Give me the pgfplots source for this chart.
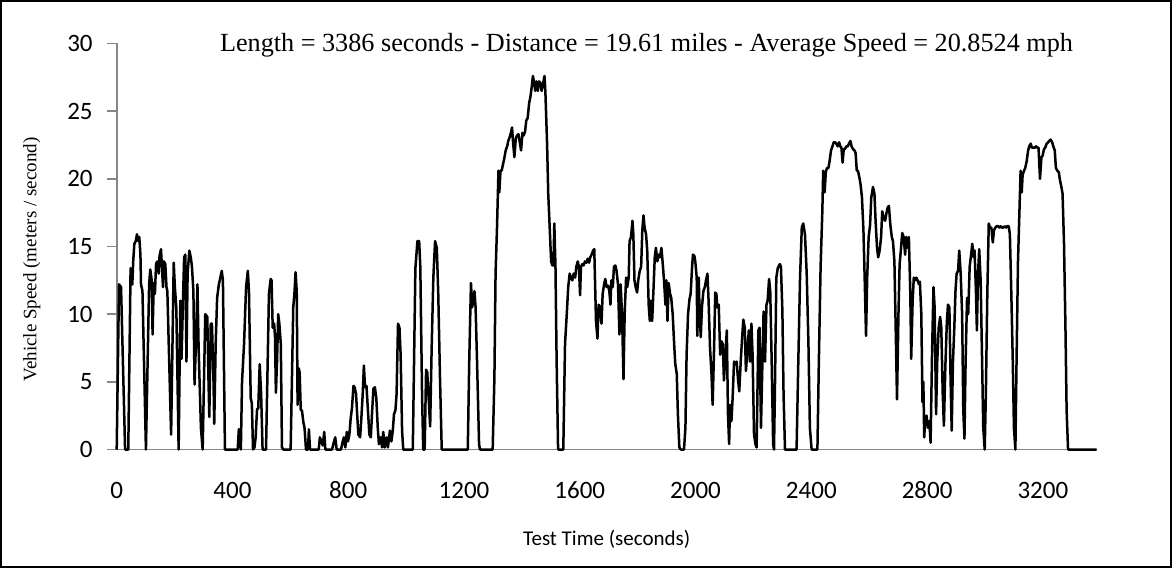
\documentclass[border=0pt]{standalone}
\usepackage{pgfplots}
\pgfplotsset{compat=1.18}
\usepackage{fontspec}
\setmainfont{Liberation Serif}
\newfontfamily\calibri{Carlito}
\definecolor{axgray}{HTML}{868686}
\begin{document}
\begin{tikzpicture}
\useasboundingbox (-58.35pt,-59.25pt) rectangle (527.65pt,224.75pt);
\draw[line width=1.1pt] (-57.8pt,-58.7pt) rectangle (527.1pt,224.2pt);
\begin{axis}[
  at={(0,0)}, anchor=south west,
  scale only axis, width=490pt, height=203pt,
  xmin=0, xmax=3386, ymin=0, ymax=30,
  axis lines*=left,
  axis line style={-, draw=axgray, line width=0.8pt},
  xtick={0,400,...,3200}, ytick={0,5,...,30},
  tick align=outside,
  major tick length=5pt,
  xtick style={draw=none},
  ytick style={draw=axgray, line width=0.8pt},
  /pgf/number format/assume math mode=true,
  /pgf/number format/1000 sep={},
  xticklabel style={font=\calibri\fontsize{12.5}{14}\selectfont, anchor=center, yshift=-15.5pt},
  yticklabel style={font=\calibri\fontsize{12.5}{14}\selectfont, anchor=east, xshift=-3.5pt},
  clip=false,
]
\addplot[black, line width=1.25pt, line join=round] coordinates {
(0,0) (8,12.2) (15,12.0) (29,0) (40,0) (48,13.4) (54,12.2) (57,13.9) (61,15.2) (66,15.4) (70,15.9) (75,15.4) (78,15.7) (82,14.4) (84,12.2) (89,11.7) (101,0)
(112,12.2) (116,13.3) (121,12.5) (124,8.5) (128,12.3) (132,11.5) (136,13.7) (140,13.9) (145,13) (148,14.3) (153,14.8) (157,13.2) (160,12) (163,13.9) (168,13.7) (172,12) (175,11.7) (188,1.1)
(197,13.8) (201,12) (206,10.5) (214,0) (220,11) (224,6.7) (229,11) (233,14.2) (237,14.4) (241,6.5) (245,13) (251,14.7) (256,14.2) (260,13.5) (265,11.7) (269,4.8) (274,8) (279,12.2) (283,7.5) (291,1.6) (297,0)
(306,10) (313,9.8) (317,5.3) (320,2.4) (325,9.3) (329,9.3) (334,5.6) (337,1.9) (342,7.8) (347,11.2) (353,12.2) (363,13.2) (367,12.5) (374,0) (418,0) (422,1.5) (429,0)
(433,5) (440,7.8) (447,12) (453,13.2) (457,11.7) (463,3.8) (467,3.4) (471,0) (476,0.15) (480,0.9) (485,3) (489,3) (494,6.3) (499,4.1) (504,0) (516,0)
(526,11.5) (532,12.6) (535,12.5) (539,9) (544,9.3) (547,8.3) (550,4.2) (554,6.5) (558,10) (562,9.3) (567,7.8) (571,0.15) (576,0) (601,0)
(610,10.5) (614,11.5) (618,13.1) (622,11.7) (625,3.3) (629,6) (632,5.7) (636,2.9) (640,2.9) (645,2) (649,1.6) (654,0) (661,0) (664,1.5) (668,0) (698,0)
(702,0.9) (707,0.6) (712,0.3) (717,1.3) (721,0) (744,0) (751,0.6) (755,0.9) (760,0) (775,0) (781,0.6) (785,0.9) (790,0.15) (795,1.3) (799,0.6) (804,1.1) (808,2.2) (813,3.1) (818,4.7) (822,4.6) (827,4.1) (830,2.9) (835,1.1) (841,0.9) (845,2.2) (850,4.1) (854,6.2) (858,4.6) (863,4.7) (868,2.9) (873,1.1) (878,0.9) (882,2.6) (887,4.5) (892,4.6) (897,3.8) (902,1.6) (906,0.4) (912,0.9) (917,0.15) (921,1.3) (926,0.15) (933,0.9) (937,0.15) (944,1.4) (949,0.6) (954,1.4) (958,2.6) (963,2.9) (967,4.1) (972,9.3) (977,9) (981,7) (986,1.4) (990,0) (1023,0)
(1032,13.4) (1039,15.4) (1045,15.4) (1049,13.5) (1055,4.1) (1059,0) (1064,0) (1069,5.9) (1073,5.7) (1077,4.1) (1083,1.7) (1088,7.3) (1094,12.7) (1100,15.4) (1106,14.9) (1111,11.5) (1117,5.3) (1123,0) (1213,0)
(1218,6.5) (1224,12.3) (1228,10.5) (1232,11) (1236,11.7) (1240,10.5) (1245,6.5) (1252,0.4) (1255,0) (1299,0)
(1305,5.3) (1309,13) (1314,16.4) (1319,20.6) (1322,19) (1326,20.6) (1330,20.6) (1335,21.1) (1339,21.5) (1344,22.1) (1349,22.4) (1353,22.8) (1358,23.1) (1362,23.4) (1366,23.8) (1369,22.8) (1374,21.6) (1379,23) (1383,23.2) (1388,23.3) (1392,22.8) (1397,22.1) (1402,23.4) (1406,23.2) (1411,23.5) (1415,24.3) (1420,24.5) (1425,25.6) (1429,26) (1434,26.8) (1438,27.6) (1443,27) (1446,26.5) (1450,27.2) (1455,26.5) (1459,27.2) (1464,27.1) (1468,26.5) (1473,27) (1478,27.6) (1481,26.5) (1487,22.6) (1491,18.9) (1496,16.4) (1501,13.9) (1505,13.6) (1509,13.6) (1512,16.7) (1516,13.5) (1520,6.5) (1525,0) (1543,0)
(1549,7.8) (1555,10) (1560,12) (1565,13) (1570,12.7) (1574,12.5) (1579,13) (1584,12.7) (1588,13.5) (1593,13.9) (1597,13.5) (1601,11.4) (1604,13.5) (1609,13.7) (1613,13.6) (1618,13.9) (1623,13.8) (1627,14.1) (1632,13.8) (1636,14.2) (1641,14.4) (1646,14.7) (1650,14.8)
(1656,9.5) (1661,8.2) (1665,10.7) (1670,10.5) (1675,9.3) (1679,11.5) (1684,12.2) (1688,12.6) (1693,12) (1698,12.1) (1702,11.7) (1706,10.7) (1709,12.5) (1714,12) (1718,13.5) (1723,13.6) (1727,13.2) (1732,12.2) (1737,8.5) (1741,12.2) (1746,10) (1751,5.2) (1755,10) (1760,12.7) (1764,12) (1769,12.7) (1772,15.4) (1777,15.7) (1782,16.9) (1785,15.9) (1789,12.5) (1793,12) (1798,11.6) (1802,12.5) (1807,13.2) (1812,13.5) (1816,16.2) (1820,17.3) (1824,16.4) (1829,15.9) (1833,14.7) (1838,10.7) (1842,9.5) (1846,11) (1850,9.5) (1854,11.5) (1859,14.2) (1863,14.9) (1868,13.9) (1873,14.4) (1877,14.2) (1882,14.9) (1886,13.9) (1891,12.5) (1896,10.7) (1899,12.5) (1903,9.5) (1907,12.3) (1912,11.5) (1916,11.2) (1921,10) (1926,7.8) (1930,6.3) (1935,5.6) (1939,2.6) (1944,0.15) (1949,0) (1960,0)
(1965,1.6) (1969,7) (1974,10) (1979,11.1) (1983,11.5) (1988,13.5) (1991,14.4) (1996,14.3) (1999,13.9) (2004,12.7) (2006,8.4) (2011,12.7) (2014,10) (2018,8.3) (2022,10.5) (2027,11.7) (2032,12) (2036,12.5) (2041,13) (2045,11) (2050,7.5) (2055,5.6) (2059,3.3) (2064,7.5) (2068,11.6) (2072,11.5) (2075,10.5) (2080,10.7) (2085,7) (2089,8) (2094,7.8) (2098,5.1) (2103,7) (2108,8.8) (2112,2.6) (2116,0.4) (2119,3.3) (2124,2.1) (2128,3.8) (2133,6.5) (2137,6.3) (2142,6.5) (2147,5.1) (2151,4.3) (2156,6.5) (2161,8.3) (2165,9.6) (2170,9) (2174,5.8) (2179,7.3) (2184,8.8) (2188,6.5) (2193,9.3) (2197,7) (2202,1.1) (2207,0.4) (2211,0.15)
(2217,8.8) (2221,9) (2226,1.6) (2231,6.5) (2235,10.2) (2240,6.5) (2245,10.7) (2249,11) (2254,12.6) (2258,11.7) (2263,6.5) (2268,0.4) (2271,0) (2274,4.1) (2279,12.7) (2284,13.4) (2291,13.7) (2295,13.5) (2300,10.2) (2304,4.1) (2309,0) (2349,0)
(2355,6.5) (2361,12.7) (2367,16.4) (2372,16.7) (2378,15.9) (2384,13) (2390,7.8) (2395,1.6) (2401,0) (2421,0)
(2426,6.5) (2432,13.5) (2438,17.6) (2441,20.6) (2446,19) (2450,20.5) (2454,20.8) (2459,20.8) (2463,21.3) (2468,22.1) (2473,22.4) (2477,22.7) (2482,22.7) (2486,22.6) (2491,22.4) (2496,22.7) (2500,22.4) (2504,22.3) (2508,21.2) (2512,22.2) (2516,22.2) (2521,22.4) (2526,22.4) (2530,22.6) (2535,22.8) (2539,22.4) (2544,22.2) (2549,22.1) (2553,21.9) (2557,20.6) (2561,20.6) (2566,20.1) (2570,19.6) (2575,18.6) (2580,16.2) (2584,12.9) (2589,8.4) (2593,12.7) (2598,15.7) (2603,16.6) (2607,18.6) (2613,19.4) (2618,18.9) (2622,16.9) (2627,14.9) (2631,14.2) (2636,14.7) (2641,15.7) (2645,17.6) (2650,17.1) (2655,16.9) (2659,17.4) (2664,17.9) (2668,18) (2673,16.6) (2678,15.7) (2682,15.4) (2687,13.9) (2691,9.5) (2696,3.7) (2701,10) (2705,13.7) (2710,14.9) (2714,16) (2719,15.7) (2724,14.4) (2728,15.7) (2733,14.9) (2737,15.7) (2742,11.5) (2745,6.7) (2750,11) (2754,12.7) (2758,12.5) (2763,12.7) (2767,12.5) (2772,12.2) (2775,12.4)
(2780,10) (2784,3.5) (2787,5) (2790,0.9) (2794,2.4) (2798,2.5) (2803,1.6) (2808,2.1) (2812,0.5) (2817,7) (2822,12) (2826,10.5) (2831,2.6) (2835,6.5) (2840,9) (2845,9.8) (2849,9) (2854,4.1) (2858,1.75) (2863,6.1) (2868,9.3) (2872,10.7) (2877,10.5) (2881,5.3) (2885,1.4) (2889,6.3) (2894,9) (2898,11.7) (2902,13) (2907,13.2) (2911,14.7) (2916,13) (2921,10) (2925,2.9) (2929,0.8) (2933,6.5) (2938,11.2) (2942,10) (2947,13.5) (2952,14.4) (2956,15.2) (2961,14.2) (2964,14.7) (2969,11.5) (2972,8.8) (2976,13) (2980,14.8) (2985,12.5) (2990,6.5) (2994,1.6) (2999,0)
(3003,4.1) (3008,11.5) (3013,16.7) (3017,16.4) (3022,16.4) (3027,15.3) (3031,16.2) (3036,16.4) (3040,16.5) (3045,16.5) (3050,16.4) (3054,16.5) (3059,16.4) (3063,16.4) (3068,16.5) (3073,16.4) (3077,16.5) (3082,16.5) (3086,15.9) (3091,11.5) (3096,6.5) (3100,1.6) (3105,0)
(3109,6.5) (3114,13.9) (3119,17.6) (3123,20.6) (3127,19) (3130,20.3) (3135,20.6) (3139,20.8) (3144,21.3) (3149,22.1) (3153,22.4) (3158,22.6) (3162,22.3) (3167,22.3) (3172,22.3) (3176,22.4) (3181,22.3) (3185,22.3) (3190,20) (3195,21.6) (3199,21.7) (3204,22.2) (3208,22.3) (3213,22.6) (3218,22.7) (3222,22.8) (3227,22.9) (3232,22.7) (3236,22.4) (3241,22.1) (3245,20.8) (3250,20.6) (3255,20.5) (3259,19.9) (3264,19.4) (3268,18.9) (3273,15.2) (3278,9) (3282,2.9) (3287,0) (3386,0)
};
\end{axis}
\node[font=\fontsize{13.1}{15}\selectfont, anchor=base] at (264.9pt,199pt) {Length = 3386 seconds - Distance = 19.61 miles - Average Speed = 20.8524 mph};
\node[font=\fontsize{9.5}{11}\selectfont, rotate=90] at (-42.5pt,95pt) {Vehicle Speed (meters / second)};
\node[font=\calibri\fontsize{10.5}{12}\selectfont, anchor=base] at (245pt,-47.75pt) {Test Time (seconds)};
\end{tikzpicture}
\end{document}
